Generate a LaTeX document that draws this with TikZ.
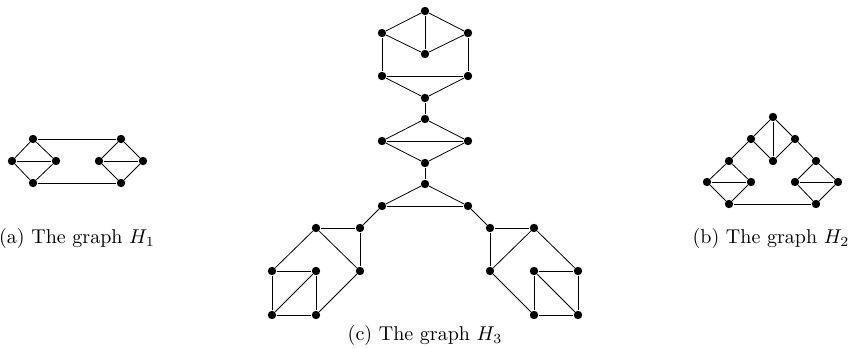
\documentclass[tikz,border=0pt]{standalone}
\usepackage{tikz}
\begin{document}
\begin{tikzpicture}[x=0.5pt,y=-0.5pt, vtx/.style={circle,fill=black,inner sep=0pt,minimum size=4.2pt}, capt/.style={anchor=base,inner sep=0pt}]
\useasboundingbox (0,0) rectangle (853,348);
% H1
\node[vtx] (a1) at (33,139) {};
\node[vtx] (a2) at (12,161) {};
\node[vtx] (a3) at (56,161) {};
\node[vtx] (a4) at (33,183) {};
\node[vtx] (b1) at (121,139) {};
\node[vtx] (b2) at (99,161) {};
\node[vtx] (b3) at (143,161) {};
\node[vtx] (b4) at (121,183) {};
\foreach \u/\v in {a1/a2,a1/a3,a2/a3,a2/a4,a3/a4,b1/b2,b1/b3,b2/b3,b2/b4,b3/b4,a1/b1,a4/b4}{\draw (\u)--(\v);}
\node[capt] (ca) at (77,243) {(a) The graph $H_1$};
% H2
\node[vtx] (q1) at (773,117) {};
\node[vtx] (q2) at (751,139) {};
\node[vtx] (q3) at (795,139) {};
\node[vtx] (q4) at (773,161) {};
\node[vtx] (q5) at (729,161) {};
\node[vtx] (q6) at (816,161) {};
\node[vtx] (q7) at (707,182) {};
\node[vtx] (q8) at (751,182) {};
\node[vtx] (q9) at (729,204) {};
\node[vtx] (q10) at (795,182) {};
\node[vtx] (q11) at (838,182) {};
\node[vtx] (q12) at (816,204) {};
\foreach \u/\v in {q1/q2,q1/q3,q1/q4,q2/q4,q3/q4,q2/q5,q3/q6,q5/q7,q5/q8,q7/q8,q7/q9,q8/q9,q6/q10,q6/q11,q10/q11,q10/q12,q11/q12,q9/q12}{\draw (\u)--(\v);}
\node[capt] (cb) at (771,243) {(b) The graph $H_2$};
% H3
\node[vtx] (r1) at (425,11) {};
\node[vtx] (r2) at (382,33) {};
\node[vtx] (r3) at (468,33) {};
\node[vtx] (r4) at (425,54) {};
\node[vtx] (r5) at (382,76) {};
\node[vtx] (r6) at (468,76) {};
\node[vtx] (r7) at (425,98) {};
\node[vtx] (r8) at (425,119) {};
\node[vtx] (r9) at (382,141) {};
\node[vtx] (r10) at (468,141) {};
\node[vtx] (r11) at (425,163) {};
\node[vtx] (r12) at (425,184) {};
\node[vtx] (r13) at (382,206) {};
\node[vtx] (r14) at (468,206) {};
\node[vtx] (l1) at (360,228) {};
\node[vtx] (l2) at (316,228) {};
\node[vtx] (l3) at (360,271) {};
\node[vtx] (l4) at (316,271) {};
\node[vtx] (l5) at (272,271) {};
\node[vtx] (l6) at (272,315) {};
\node[vtx] (l7) at (316,315) {};
\node[vtx] (s1) at (490,228) {};
\node[vtx] (s2) at (534,228) {};
\node[vtx] (s3) at (490,271) {};
\node[vtx] (s4) at (534,271) {};
\node[vtx] (s5) at (578,271) {};
\node[vtx] (s6) at (534,315) {};
\node[vtx] (s7) at (578,315) {};
\foreach \u/\v in {r1/r2,r1/r3,r1/r4,r2/r4,r3/r4,r2/r5,r3/r6,r5/r6,r5/r7,r6/r7,r7/r8,r8/r9,r8/r10,r9/r10,r9/r11,r10/r11,r11/r12,r12/r13,r12/r14,r13/r14}{\draw (\u)--(\v);}
\foreach \u/\v in {r13/l1,l1/l2,l2/l5,l2/l3,l1/l3,l3/l7,l5/l4,l5/l6,l4/l7,l6/l7,l6/l4}{\draw (\u)--(\v);}
\foreach \u/\v in {r14/s1,s1/s2,s1/s3,s2/s3,s2/s5,s3/s6,s4/s5,s4/s6,s5/s7,s6/s7,s4/s7}{\draw (\u)--(\v);}
\node[capt] (cc) at (425,340) {(c) The graph $H_3$};
\end{tikzpicture}
\end{document}
